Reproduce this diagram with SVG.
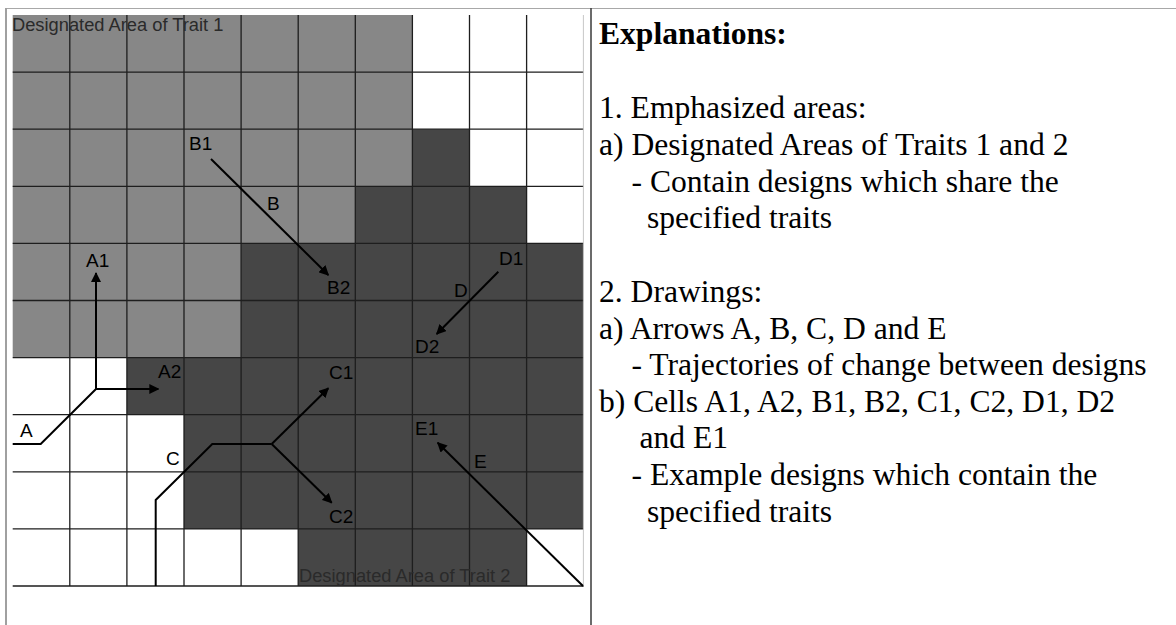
<svg xmlns="http://www.w3.org/2000/svg" width="1176" height="625" viewBox="0 0 1176 625">
<defs>
<marker id="ah" viewBox="0 0 10 10" refX="9" refY="5" markerWidth="5" markerHeight="5" orient="auto" markerUnits="strokeWidth">
<path d="M0,0 L10,5 L0,10 z" fill="#000"/>
</marker>
<style>
.grid{stroke:#1e1e1e;stroke-width:1.3;fill:none}
.arr{stroke:#000;stroke-width:2;fill:none;stroke-linejoin:miter}
.lbl{font-family:"Liberation Sans",Arial,sans-serif;font-size:19px;fill:#000}
.trait{font-family:"Liberation Sans",Arial,sans-serif;font-size:18.3px;fill:#2a2a2a}
.ex{font-family:"Liberation Serif","Times New Roman",serif;font-size:31.6px;fill:#000}
</style>
</defs>
<rect width="1176" height="625" fill="#fff"/>
<g id="frame">
<line x1="5" y1="8.5" x2="1176" y2="8.5" stroke="#a8a8a8" stroke-width="1"/>
<line x1="6" y1="8" x2="6" y2="625" stroke="#a0a0a0" stroke-width="2"/>
<line x1="591" y1="8" x2="591" y2="625" stroke="#3a3a3a" stroke-width="1.5"/>
</g>
<g id="areas">
<polygon id="trait1" fill="#878787" points="12.7,15 412.4,15 412.4,186.3 355.3,186.3 355.3,243.4 241.1,243.4 241.1,357.6 12.7,357.6"/>
<polygon id="trait2" fill="#464646" points="412.4,129.2 469.5,129.2 469.5,186.3 526.6,186.3 526.6,243.4 583.7,243.4 583.7,528.9 526.6,528.9 526.6,586 298.2,586 298.2,528.9 184,528.9 184,414.7 126.9,414.7 126.9,357.6 241.1,357.6 241.1,243.4 355.3,243.4 355.3,186.3 412.4,186.3"/>
</g>
<g id="grid" class="grid">
<path d="M69.8,15V586M126.9,15V586M184,15V586M241.1,15V586M298.2,15V586M355.3,15V586M412.4,15V586M469.5,15V586M526.6,15V586"/>
<path d="M12.7,72.1H583.7M12.7,129.2H583.7M12.7,186.3H583.7M12.7,243.4H583.7M12.7,300.5H583.7M12.7,357.6H583.7M12.7,414.7H583.7M12.7,471.8H583.7M12.7,528.9H583.7M12.7,586H583.7"/>
<line x1="583.4" y1="15" x2="583.4" y2="586" stroke="#c8c8c8" stroke-width="1"/>
</g>
<g id="trait-labels">
<text class="trait" x="12" y="31">Designated Area of Trait 1</text>
<text class="trait" x="299" y="581.5">Designated Area of Trait 2</text>
</g>
<g id="connectors">
<polyline class="arr" points="12.7,444 40.7,444 96,389"/>
<line class="arr" x1="96" y1="389" x2="96" y2="273" marker-end="url(#ah)"/>
<line class="arr" x1="96" y1="389" x2="158.3" y2="389" marker-end="url(#ah)"/>
<line class="arr" x1="211" y1="159" x2="328.3" y2="275" marker-end="url(#ah)"/>
<polyline class="arr" points="155.7,586 155.7,500 212.3,444 271.7,444"/>
<line class="arr" x1="271.7" y1="444" x2="328.3" y2="388.3" marker-end="url(#ah)"/>
<line class="arr" x1="271.7" y1="444" x2="331.7" y2="502.7" marker-end="url(#ah)"/>
<line class="arr" x1="498.3" y1="271.7" x2="436.7" y2="334" marker-end="url(#ah)"/>
<line class="arr" x1="583" y1="586" x2="437.7" y2="442.7" marker-end="url(#ah)"/>
</g>
<g id="cell-labels">
<text class="lbl" x="20" y="437">A</text>
<text class="lbl" x="86" y="267">A1</text>
<text class="lbl" x="158" y="378">A2</text>
<text class="lbl" x="267" y="210">B</text>
<text class="lbl" x="189" y="150">B1</text>
<text class="lbl" x="327" y="294">B2</text>
<text class="lbl" x="166" y="465">C</text>
<text class="lbl" x="329" y="379">C1</text>
<text class="lbl" x="329" y="523">C2</text>
<text class="lbl" x="454" y="297">D</text>
<text class="lbl" x="499" y="265">D1</text>
<text class="lbl" x="415" y="352.5">D2</text>
<text class="lbl" x="474" y="468">E</text>
<text class="lbl" x="415" y="435">E1</text>
</g>
<g id="explanations">
<text class="ex" x="599" y="44.3" font-weight="bold">Explanations:</text>
<text class="ex" x="599" y="118.3">1. Emphasized areas:</text>
<text class="ex" x="599" y="155">a) Designated Areas of Traits 1 and 2</text>
<text class="ex" x="631.5" y="191.7">- Contain designs which share the</text>
<text class="ex" x="647" y="227.7">specified traits</text>
<text class="ex" x="599" y="301.7">2. Drawings:</text>
<text class="ex" x="599" y="339">a) Arrows A, B, C, D and E</text>
<text class="ex" x="631.5" y="375">- Trajectories of change between designs</text>
<text class="ex" x="599" y="411.7">b) Cells A1, A2, B1, B2, C1, C2, D1, D2</text>
<text class="ex" x="639.5" y="448.3">and E1</text>
<text class="ex" x="631.5" y="485">- Example designs which contain the</text>
<text class="ex" x="647" y="521.7">specified traits</text>
</g>
</svg>
